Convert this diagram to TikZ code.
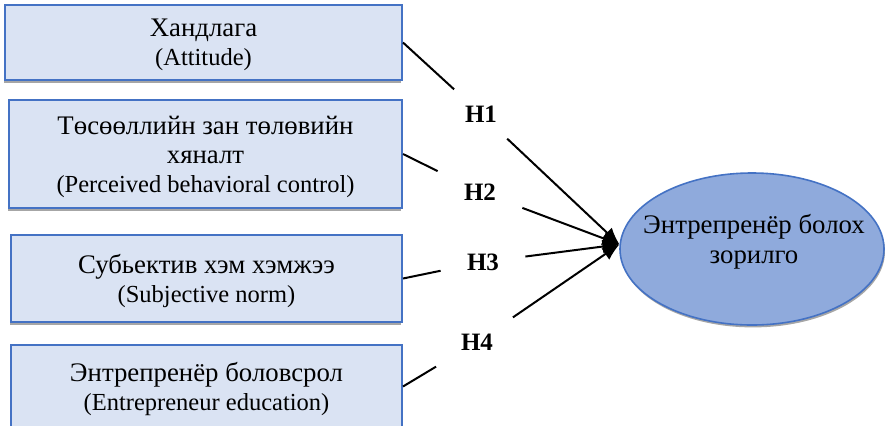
\documentclass[tikz,border=0pt]{standalone}
\usepackage{fontspec}
\setmainfont{Liberation Serif}
\usepackage{xcolor}
\usetikzlibrary{shapes.geometric, arrows.meta, shadows}
\definecolor{boxfill}{HTML}{DAE3F3}
\definecolor{boxline}{HTML}{4472C4}
\definecolor{ellfill}{HTML}{8FAADC}
\newcommand{\en}[1]{{\fontsize{12.25}{14.5}\selectfont #1}}
\tikzset{
    cbox/.style={rectangle, draw=boxline, line width=1pt, fill=boxfill,
                 align=center, inner sep=0pt, text depth=-3pt,
                 font=\fontsize{13.4}{14.5}\selectfont,
                 drop shadow={shadow xshift=-0.3pt, shadow yshift=-1.6pt,
                              fill=black!35, opacity=1}},
    gell/.style={ellipse, draw=boxline, line width=0.8pt, fill=ellfill,
                 minimum width=132pt, minimum height=76pt, inner sep=0pt,
                 drop shadow={shadow xshift=0.5pt, shadow yshift=-1.2pt,
                              fill=black!35, opacity=1}},
    gtxt/.style={align=center, font=\fontsize{13.4}{15}\selectfont},
    hlab/.style={font=\fontsize{12.5}{15}\selectfont\bfseries,
                 inner xsep=13pt, inner ysep=8pt},
    seg/.style={line width=1pt, draw=black},
    arr/.style={-{Latex[length=8.5pt,width=7pt]}, line width=1pt, draw=black}
}

\begin{document}
\begin{tikzpicture}[x=0.5pt, y=-0.5pt]
\useasboundingbox (0,0) rectangle (885,425);

\node[cbox, minimum width=198.5pt, minimum height=37.5pt, text depth=-6pt]
     at (203.5,42.5) (att) {Хандлага\\\en{(Attitude)}};
\node[cbox, minimum width=196.5pt, minimum height=54pt]   at (205.5,154)  (pbc)
     {Төсөөллийн зан төлөвийн\\хяналт\\\en{(Perceived behavioral control)}};
\node[cbox, minimum width=195.5pt, minimum height=43.5pt] at (206.5,278.5) (sn)
     {Субьектив хэм хэмжээ\\\en{(Subjective norm)}};
\node[cbox, minimum width=195.5pt, minimum height=41.5pt] at (206.5,386.5) (edu)
     {Энтрепренёр боловсрол\\\en{(Entrepreneur education)}};

\node[gell] at (752,249) (goal) {};
\node[gtxt] at (754,242) (goaltxt) {Энтрепренёр болох\\зорилго};

% hypotheses
\node[hlab] at (481,114) (h1) {H1};
\node[hlab] at (480,192) (h2) {H2};
\node[hlab] at (483,262) (h3) {H3};
\node[hlab] at (477,342) (h4) {H4};

\draw[seg] (att.east) -- (h1);
\draw[seg] (pbc.east) -- (h2);
\draw[seg] (sn.east)  -- (h3);
\draw[seg] (edu.east) -- (h4);
\draw[arr] (h1) -- (goal.178);
\draw[arr] (h2) -- (goal.178);
\draw[arr] (h3) -- (goal.178);
\draw[arr] (h4) -- (goal.178);
\end{tikzpicture}
\end{document}
